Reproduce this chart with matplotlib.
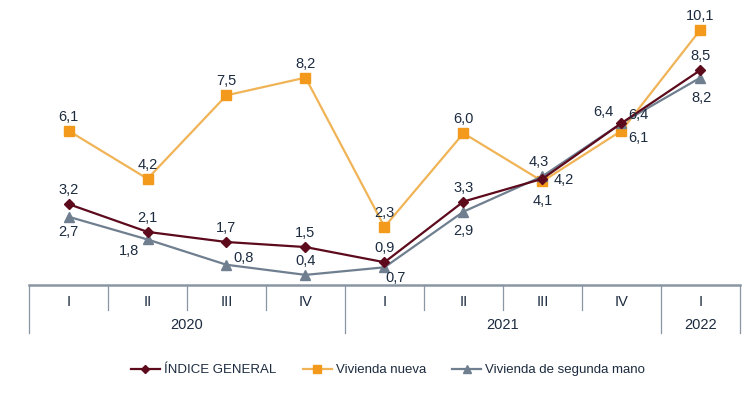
import matplotlib
matplotlib.use("Agg")
import matplotlib.pyplot as plt
from matplotlib.lines import Line2D

plt.rcParams['font.family'] = ['Liberation Sans', 'DejaVu Sans']

quarters = ["I", "II", "III", "IV", "I", "II", "III", "IV", "I"]
years = ["2020", "2021", "2022"]
year_spans = [(0, 3), (4, 7), (8, 8)]
indice_general = [3.2, 2.1, 1.7, 1.5, 0.9, 3.3, 4.2, 6.4, 8.5]
vivienda_nueva = [6.1, 4.2, 7.5, 8.2, 2.3, 6.0, 4.1, 6.1, 10.1]
vivienda_segunda = [2.7, 1.8, 0.8, 0.4, 0.7, 2.9, 4.3, 6.4, 8.2]
series_names = ["ÍNDICE GENERAL", "Vivienda nueva", "Vivienda de segunda mano"]

c_ig = "#5c0a1c"
c_vn_line = "#f0b457"
c_vn_mark = "#f39a1c"
c_vs = "#6f7f8f"
txt = "#1c2b3f"

fig = plt.figure(figsize=(7.5, 3.98), dpi=100)
ax = fig.add_axes([29/750, (398-285)/398, 711/750, 283/398])
x = list(range(len(quarters)))

ax.plot(x, vivienda_nueva, color=c_vn_line, lw=1.6, marker="s", ms=7.5,
        mfc=c_vn_mark, mec=c_vn_mark, zorder=2)
ax.plot(x, vivienda_segunda, color=c_vs, lw=1.6, marker="^", ms=7.5,
        mfc=c_vs, mec=c_vs, zorder=3)
ax.plot(x, indice_general, color=c_ig, lw=1.6, marker="D", ms=5.5,
        mfc=c_ig, mec=c_ig, zorder=4)

def fmt(v):
    return f"{v:.1f}".replace(".", ",")

off_ig = [(0, 10), (0, 10), (0, 10), (0, 10), (0, 10), (0, 10), (15, -1), (12, 6), (0, 10)]
off_vn = [(0, 10), (0, 10), (0, 10), (0, 10), (0, 10), (0, 10), (0, -14), (12, -5), (0, 10)]
off_vs = [(0, -11), (-13, -8), (12, 5), (0, 10), (8, -8), (0, -14), (-3, 10), (-13, 8), (1, -15)]

for vals, offs in ((indice_general, off_ig), (vivienda_nueva, off_vn), (vivienda_segunda, off_vs)):
    for xi, v, (dx, dy) in zip(x, vals, offs):
        ax.annotate(fmt(v), (xi, v), xytext=(dx, dy), textcoords="offset points",
                    ha="center", va="center", fontsize=10.5, color=txt, zorder=6)

ax.set_xlim(-0.5, len(quarters) - 0.5)
ax.set_ylim(0, 11.19)
for s in ax.spines.values():
    s.set_visible(False)
ax.set_xticks([])
ax.set_yticks([])

sep = "#8a96a3"
trans = ax.get_xaxis_transform()
ax.plot([-0.5, len(quarters) - 0.5], [0, 0], transform=trans, color=sep, lw=1.8, clip_on=False)
year_bounds = set()
for a, b in year_spans:
    year_bounds.add(a - 0.5)
    year_bounds.add(b + 0.5)
for k in range(len(quarters) + 1):
    xb = k - 0.5
    low = -0.170 if xb in year_bounds else -0.088
    ax.plot([xb, xb], [0, low], transform=trans, color=sep, lw=0.9, clip_on=False)
for xi, q in zip(x, quarters):
    ax.text(xi, -0.060, q, transform=trans, ha="center", va="center", fontsize=10.5, color=txt)
for (a, b), yl in zip(year_spans, years):
    ax.text((a + b) / 2, -0.141, yl, transform=trans, ha="center", va="center", fontsize=10.5, color=txt)

handles = [
    Line2D([], [], color=c_ig, lw=1.6, marker="D", ms=4.5, mfc=c_ig, mec=c_ig),
    Line2D([], [], color=c_vn_line, lw=1.6, marker="s", ms=6, mfc=c_vn_mark, mec=c_vn_mark),
    Line2D([], [], color=c_vs, lw=1.6, marker="^", ms=6, mfc=c_vs, mec=c_vs),
]
leg = fig.legend(handles, series_names, loc="center", bbox_to_anchor=(388/750, (398-370)/398),
                 ncol=3, frameon=False, fontsize=9.5, handlelength=2.2, handletextpad=0.3,
                 columnspacing=2.0)
for t in leg.get_texts():
    t.set_color(txt)

fig.savefig("out.png", dpi=100, facecolor="white")
